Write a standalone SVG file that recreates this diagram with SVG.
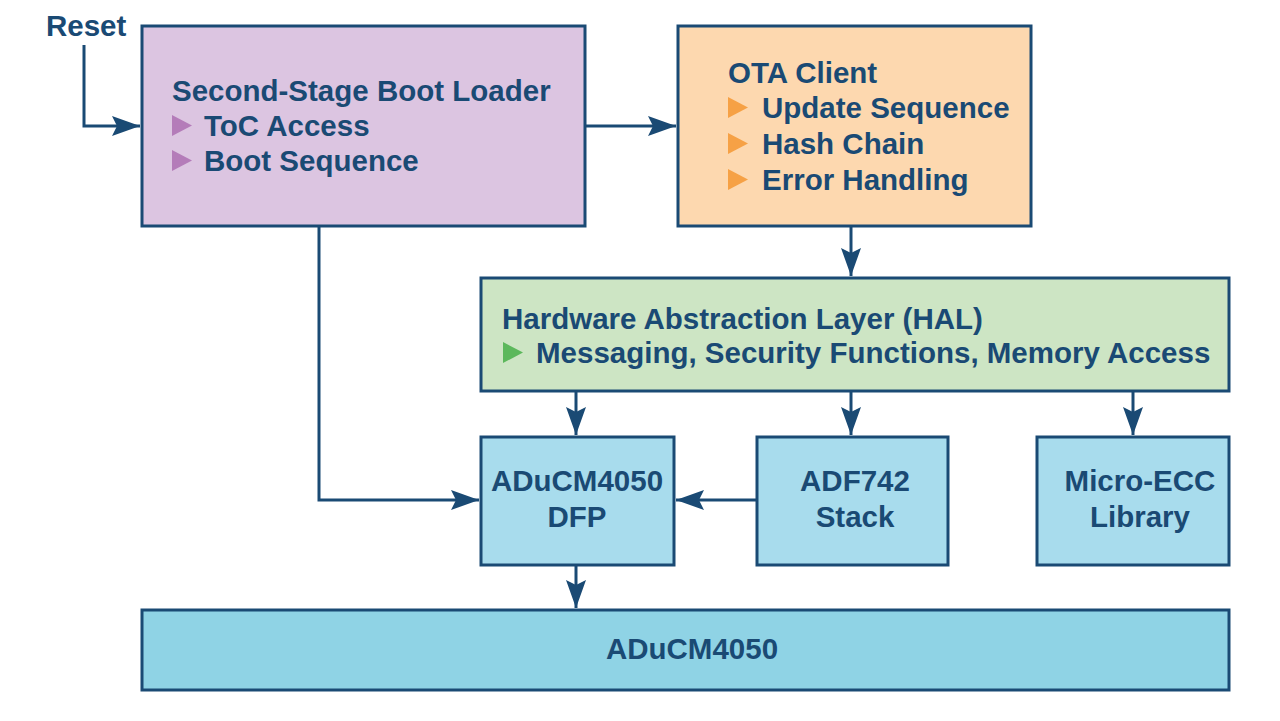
<svg xmlns="http://www.w3.org/2000/svg" width="1280" height="721" viewBox="0 0 1280 721">
<defs>
<marker id="ah" markerWidth="28" markerHeight="20" refX="28" refY="10" orient="auto" markerUnits="userSpaceOnUse" viewBox="0 0 28 20">
<path d="M0,0 L28,10 L0,20 L5,10 Z" fill="#1a4a74"/>
</marker>
<style>
.box{stroke:#1a4a74;stroke-width:3}
.t{font-family:"Liberation Sans",Arial,sans-serif;font-weight:bold;font-size:29.5px;fill:#1a4a74}
.c{stroke:#1a4a74;stroke-width:3;fill:none}
</style>
</defs>
<rect width="1280" height="721" fill="#ffffff"/>
<g id="connectors">
<path class="c" d="M84,45 V126 H140" marker-end="url(#ah)"/>
<path class="c" d="M585,126 H676" marker-end="url(#ah)"/>
<path class="c" d="M851,226 V276" marker-end="url(#ah)"/>
<path class="c" d="M319,226 V500 H479" marker-end="url(#ah)"/>
<path class="c" d="M576,391 V435" marker-end="url(#ah)"/>
<path class="c" d="M851,391 V435" marker-end="url(#ah)"/>
<path class="c" d="M1133,391 V435" marker-end="url(#ah)"/>
<path class="c" d="M757,500 H676" marker-end="url(#ah)"/>
<path class="c" d="M576,565 V608" marker-end="url(#ah)"/>
</g>
<g id="reset"><text class="t" x="46" y="36">Reset</text></g>
<g id="bootloader">
<rect class="box" x="142" y="26" width="443" height="200" fill="#dcc5e1"/>
<text class="t" x="172" y="101">Second-Stage Boot Loader</text>
<path d="M172,115 L192,125.5 L172,136 Z" fill="#b47cb9"/>
<text class="t" x="204" y="136">ToC Access</text>
<path d="M172,150 L192,160.5 L172,171 Z" fill="#b47cb9"/>
<text class="t" x="204" y="171">Boot Sequence</text>
</g>
<g id="ota">
<rect class="box" x="678" y="26" width="353" height="200" fill="#fdd8af"/>
<text class="t" x="728" y="83">OTA Client</text>
<path d="M728,97 L748,107.5 L728,118 Z" fill="#f6a145"/>
<text class="t" x="762" y="118">Update Sequence</text>
<path d="M728,133 L748,143.5 L728,154 Z" fill="#f6a145"/>
<text class="t" x="762" y="154">Hash Chain</text>
<path d="M728,169 L748,179.5 L728,190 Z" fill="#f6a145"/>
<text class="t" x="762" y="190">Error Handling</text>
</g>
<g id="hal">
<rect class="box" x="481" y="278" width="748" height="113" fill="#cde5c4"/>
<text class="t" x="502" y="329">Hardware Abstraction Layer (HAL)</text>
<path d="M503,342 L523,352.5 L503,363 Z" fill="#5cb85c"/>
<text class="t" x="536" y="363">Messaging, Security Functions, Memory Access</text>
</g>
<g id="dfp">
<rect class="box" x="481" y="437" width="193" height="128" fill="#a8dced"/>
<text class="t" x="577" y="491" text-anchor="middle">ADuCM4050</text>
<text class="t" x="577" y="527" text-anchor="middle">DFP</text>
</g>
<g id="adf">
<rect class="box" x="757" y="437" width="191" height="128" fill="#a8dced"/>
<text class="t" x="855" y="491" text-anchor="middle">ADF742</text>
<text class="t" x="855" y="527" text-anchor="middle">Stack</text>
</g>
<g id="ecc">
<rect class="box" x="1037" y="437" width="192" height="128" fill="#a8dced"/>
<text class="t" x="1140" y="491" text-anchor="middle">Micro-ECC</text>
<text class="t" x="1140" y="527" text-anchor="middle">Library</text>
</g>
<g id="aducm">
<rect class="box" x="142" y="610" width="1087" height="80" fill="#8fd3e5"/>
<text class="t" x="692" y="659" text-anchor="middle">ADuCM4050</text>
</g>
</svg>
